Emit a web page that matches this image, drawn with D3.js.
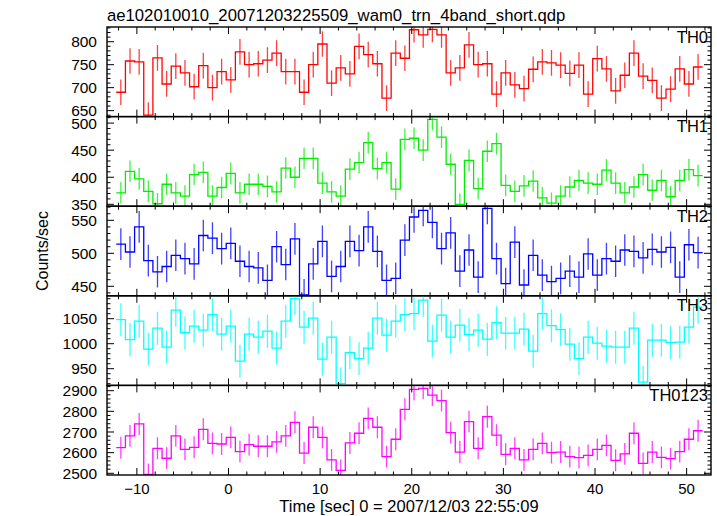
<!DOCTYPE html>
<html><head><meta charset="utf-8">
<script src="https://cdn.jsdelivr.net/npm/d3@7"></script>
<style>
body{margin:0;background:#fff}
text{font-family:"Liberation Sans",Arial,Helvetica,sans-serif;fill:#000}
</style>
</head><body>
<svg id="chart" width="717" height="516"></svg>
<script>
const titleText = "ae102010010_20071203225509_wam0_trn_4band_short.qdp";
const xLabelText = "Time [sec] 0 = 2007/12/03 22:55:09";
const yLabelText = "Counts/sec";

// bin centres (sec), bin width 1 s
const times = [-11.75,-10.75,-9.75,-8.75,-7.75,-6.75,-5.75,-4.75,-3.75,-2.75,-1.75,-0.75,0.25,1.25,2.25,3.25,
  4.25,5.25,6.25,7.25,8.25,9.25,10.25,11.25,12.25,13.25,14.25,15.25,16.25,17.25,18.25,19.25,
  20.25,21.25,22.25,23.25,24.25,25.25,26.25,27.25,28.25,29.25,30.25,31.25,32.25,33.25,34.25,35.25,
  36.25,37.25,38.25,39.25,40.25,41.25,42.25,43.25,44.25,45.25,46.25,47.25,48.25,49.25,50.25,51.25];
const binWidth = 1;

const th0 = [690,758,756,640,765,708,747,732,702,748,700,735,717,778,750,752,760,775,735,735,690,750,795,710,743,730,790,772,752,677,775,
  764,826,815,827,815,732,743,793,750,752,686,732,706,698,740,756,754,749,731,749,686,763,741,693,727,775,725,716,677,697,741,708,745];
const th1 = [371,411,397,374,351,387,371,365,405,409,365,381,407,371,387,387,383,373,417,400,435,435,389,373,365,415,427,464,416,427,378,
  470,472,450,507,474,424,350,431,379,448,462,385,374,384,393,362,352,365,382,394,389,387,413,389,371,382,405,376,394,364,394,414,403];
const th2 = [514,502,540,489,472,480,497,492,484,527,523,507,515,488,480,478,459,510,483,522,437,484,518,465,480,518,504,540,503,459,462,
  520,555,565,547,507,531,473,505,464,568,492,454,517,452,497,467,457,462,473,464,499,467,492,488,505,503,493,506,502,509,464,513,501];
const th3 = [1048,1008,1045,989,1031,993,1067,1022,1035,1027,1058,1019,1035,965,1019,1013,1025,991,1045,1090,1033,1051,969,1013,920,982,970,991,1051,1017,1045,
  1058,1060,1087,1005,1057,1013,1037,1018,1027,1009,1042,1021,1021,1029,985,1060,1036,1028,999,970,1013,1001,995,993,993,1031,923,1007,1007,1002,1003,1033,1073];
const th0123 = [2624,2681,2739,2495,2621,2573,2681,2616,2626,2713,2645,2642,2674,2605,2639,2631,2631,2652,2681,2747,2598,2723,2674,2565,2514,2647,2694,2766,2723,2581,2665,
  2810,2906,2911,2879,2852,2697,2603,2750,2621,2774,2685,2592,2621,2565,2616,2645,2600,2603,2581,2576,2587,2616,2635,2563,2594,2694,2548,2603,2577,2571,2605,2665,2706];

const panelNames = ["TH0","TH1","TH2","TH3","TH0123"];
const panelValues = [th0, th1, th2, th3, th0123];
const panelErrors = [28, 20, 24, 33, 53];
const panelColors = ["#ff0000","#00ee00","#0000ff","#00ffff","#ff00ff"];
const yDomains = [[637,832],[346.5,512],[435.6,571.4],[916.6,1095.8],[2491.8,2925.6]];
const yMajorStep = [50,50,50,50,100];
const yMinorStep = [10,10,10,10,20];
const xDomain = [-13.26, 52.66];
const xMajorTicks = [-10,0,10,20,30,40,50];

(function draw() {
const svg = d3.select("#chart");
const pLeft = 107, pRight = 711, pTop = 27, pBottom = 475;
const nP = panelNames.length;
const ph = (pBottom - pTop) / nP;
const FS = 15.5;

const x = d3.scaleLinear().domain(xDomain).range([pLeft, pRight]);

svg.append("text").attr("x", pLeft).attr("y", 21).attr("font-size", 16.7).text(titleText);

panelNames.forEach((name, i) => {
  const y0 = pTop + i * ph, y1 = y0 + ph;
  const y = d3.scaleLinear().domain(yDomains[i]).range([y1, y0]);
  const vals = panelValues[i];
  const err = panelErrors[i];
  const col = panelColors[i];
  const g = svg.append("g");
  const cid = "clip" + i;
  svg.append("clipPath").attr("id", cid).append("rect")
     .attr("x", pLeft).attr("y", y0).attr("width", pRight - pLeft).attr("height", ph);
  const pg = g.append("g").attr("clip-path", `url(#${cid})`);

  pg.selectAll("line.err").data(vals).join("line")
    .attr("x1", (d, k) => x(times[k])).attr("x2", (d, k) => x(times[k]))
    .attr("y1", d => y(d - err)).attr("y2", d => y(d + err))
    .attr("stroke", col).attr("stroke-width", 1.3).attr("stroke-opacity", 0.75);

  const pts = [];
  vals.forEach((v, k) => { pts.push([times[k] - binWidth / 2, v]); pts.push([times[k] + binWidth / 2, v]); });
  pg.append("path").attr("d", d3.line().x(d => x(d[0])).y(d => y(d[1]))(pts))
    .attr("fill", "none").attr("stroke", col).attr("stroke-width", 1.3);

  g.append("rect").attr("x", pLeft).attr("y", y0).attr("width", pRight - pLeft).attr("height", ph)
    .attr("fill", "none").attr("stroke", "#000").attr("stroke-width", 1.4);

  const [ymin, ymax] = yDomains[i];
  const minorT = d3.range(Math.ceil(ymin / yMinorStep[i]) * yMinorStep[i], ymax, yMinorStep[i]);
  minorT.forEach(t => {
    const major = Math.abs(t / yMajorStep[i] - Math.round(t / yMajorStep[i])) < 1e-6;
    const len = major ? 7 : 3.5;
    const yy = y(t);
    g.append("line").attr("x1", pLeft).attr("x2", pLeft + len).attr("y1", yy).attr("y2", yy).attr("stroke", "#000").attr("stroke-width", 1);
    g.append("line").attr("x1", pRight).attr("x2", pRight - len).attr("y1", yy).attr("y2", yy).attr("stroke", "#000").attr("stroke-width", 1);
    if (major) {
      g.append("text").attr("x", 97).attr("y", yy).attr("dy", "0.36em")
        .attr("text-anchor", "end").attr("font-size", FS).text(t);
    }
  });

  const xt = d3.range(-12, 53, 2);
  xt.forEach(t => {
    const major = t % 10 === 0;
    const len = major ? 7 : 3.5;
    const xx = x(t);
    g.append("line").attr("x1", xx).attr("x2", xx).attr("y1", y0).attr("y2", y0 + len).attr("stroke", "#000").attr("stroke-width", 1);
    g.append("line").attr("x1", xx).attr("x2", xx).attr("y1", y1).attr("y2", y1 - len).attr("stroke", "#000").attr("stroke-width", 1);
  });

  g.append("text").attr("x", pRight - 3).attr("y", y0 + 15.5).attr("text-anchor", "end")
    .attr("font-size", 16.5).text(name);
});

xMajorTicks.forEach(t => {
  svg.append("text").attr("x", x(t)).attr("y", 494).attr("text-anchor", "middle")
    .attr("font-size", 15).text(t < 0 ? "\u2212" + Math.abs(t) : t);
});
svg.append("text").attr("x", (pLeft + pRight) / 2).attr("y", 512.3).attr("text-anchor", "middle")
  .attr("font-size", 16.5).text(xLabelText);
svg.append("text").attr("transform", `translate(48,${(pTop + pBottom) / 2}) rotate(-90)`)
  .attr("text-anchor", "middle").attr("font-size", 16).text(yLabelText);
})();
</script>
</body></html>
